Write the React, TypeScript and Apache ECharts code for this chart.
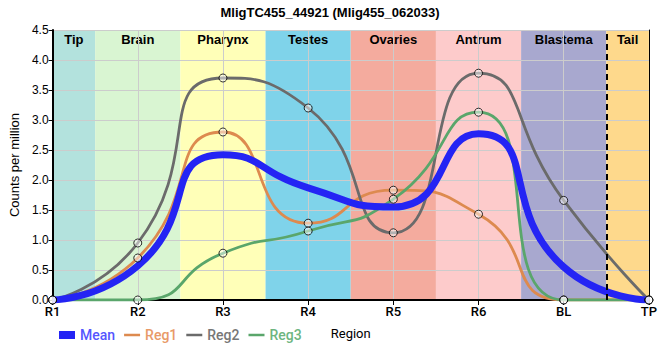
import React, { useEffect, useRef } from 'react';
import * as echarts from 'echarts';

const categories = ['R1', 'R2', 'R3', 'R4', 'R5', 'R6', 'BL', 'TP'];
const meanValues = [0, 0.57, 2.42, 1.87, 1.55, 2.77, 0.55, 0];
const reg1Values = [0, 0.7, 2.8, 1.28, 1.83, 1.43, 0, 0];
const reg2Values = [0, 0.95, 3.7, 3.2, 1.12, 3.78, 1.66, 0];
const reg3Values = [0, 0, 0.78, 1.15, 1.68, 3.13, 0, 0];

const regionNames = ['Tip', 'Brain', 'Pharynx', 'Testes', 'Ovaries', 'Antrum', 'Blastema', 'Tail'];
const regionStarts = [0, 0.5, 1.5, 2.5, 3.5, 4.5, 5.5, 6.5];
const regionEnds = [0.5, 1.5, 2.5, 3.5, 4.5, 5.5, 6.5, 7];
const regionColors = ['#b3e2dd', '#d9f5d2', '#ffffb8', '#7fd3ea', '#f4ab9e', '#fdcbcb', '#a8a8cf', '#fed98c'];
const tailBoundary = 6.5;

const seriesNames = ['Mean', 'Reg1', 'Reg2', 'Reg3'];
const seriesColors = ['#2424f4', '#dd8a4f', '#6b6b6b', '#5aa66b'];
const legendTextColors = ['#5555ff', '#e89a68', '#777777', '#6db580'];

export default function App() {
  const ref = useRef<HTMLDivElement>(null);
  useEffect(() => {
    if (!ref.current) return;
    const chart = echarts.init(ref.current, null, { renderer: 'svg' });
    const regValues = [reg1Values, reg2Values, reg3Values];
    const axisFont = 'Liberation Sans, Arial, sans-serif';
    const option: any = {
      animation: false,
      title: {
        text: 'MligTC455_44921 (Mlig455_062033)',
        left: 'center',
        top: 1,
        textStyle: { fontFamily: axisFont, fontSize: 13, fontWeight: 'bold', color: '#000' },
      },
      grid: { left: 50, right: 9, top: 30, bottom: 60 },
      legend: {
        left: 54,
        top: 323,
        itemWidth: 16,
        itemHeight: 8,
        itemGap: 9,
        textStyle: { fontFamily: 'Roboto, sans-serif', fontSize: 14, fontWeight: 500 },
        data: seriesNames.map((n, i) => ({
          name: n,
          icon: i === 0 ? 'path://M0,0L16,0L16,8L0,8Z' : 'path://M0,0L16,0L16,2.5L0,2.5Z',
          textStyle: { color: legendTextColors[i] },
        })),
      },
      xAxis: [
        {
          type: 'category',
          data: categories,
          boundaryGap: false,
          z: 1.5,
          axisLine: { show: true, lineStyle: { color: '#000', width: 2 } },
          axisTick: { show: true, length: 5, lineStyle: { color: '#000', width: 1 } },
          axisLabel: { fontFamily: 'Roboto, sans-serif', fontSize: 13, fontWeight: 500, color: '#000', margin: 5 },
          splitLine: { show: true, lineStyle: { color: '#cccccc', width: 1 } },
          name: 'Region',
          nameLocation: 'middle',
          nameGap: 27,
          nameTextStyle: { fontFamily: 'Roboto, sans-serif', fontSize: 13, color: '#000' },
        },
        {
          type: 'value',
          min: 0,
          max: 7,
          position: 'top',
          z: 1.5,
          axisLine: { show: true, lineStyle: { color: '#000', width: 1 } },
          axisTick: { show: false },
          axisLabel: { show: false },
          splitLine: { show: false },
        },
      ],
      yAxis: [
        {
          type: 'value',
          min: 0,
          max: 4.5,
          interval: 0.5,
          z: 1.5,
          axisLine: { show: true, lineStyle: { color: '#000', width: 2 } },
          axisTick: { show: true, length: 4, lineStyle: { color: '#000' } },
          axisLabel: {
            fontFamily: axisFont,
            fontSize: 12,
            color: '#000',
            margin: 4,
            formatter: (v: number) => v.toFixed(1),
          },
          splitLine: { show: true, lineStyle: { color: '#cccccc', width: 1 } },
          name: 'Counts per million',
          nameLocation: 'middle',
          nameGap: 31,
          nameRotate: 90,
          nameTextStyle: { fontFamily: axisFont, fontSize: 13, color: '#000' },
        },
        {
          type: 'value',
          min: 0,
          max: 4.5,
          interval: 0.5,
          position: 'right',
          z: 1.5,
          axisLine: { show: true, lineStyle: { color: '#000', width: 1 } },
          axisTick: { show: false },
          axisLabel: { show: false },
          splitLine: { show: false },
        },
      ],
      series: [
        {
          name: 'bands',
          type: 'line',
          xAxisIndex: 1,
          yAxisIndex: 0,
          data: [],
          silent: true,
          markArea: {
            silent: true,
            z: 1,
            label: {
              show: true,
              position: 'insideTop',
              distance: 3,
              fontFamily: axisFont,
              fontSize: 13,
              fontWeight: 'bold',
              color: '#000',
            },
            data: regionNames.map((n, i) => [
              { name: n, xAxis: regionStarts[i], itemStyle: { color: regionColors[i], opacity: 1 } },
              { xAxis: regionEnds[i] },
            ]),
          },
          markLine: {
            silent: true,
            symbol: 'none',
            label: { show: false },
            lineStyle: { color: '#000', type: [6, 4], width: 2 },
            data: [{ xAxis: tailBoundary }],
          },
        },
        ...[meanValues, reg1Values, reg2Values, reg3Values].map((vals, i) => ({
          name: seriesNames[i],
          type: 'line',
          data: vals,
          smooth: 0.6,
          symbol: 'none',
          z: i === 0 ? 3 : 2,
          itemStyle: { color: seriesColors[i] },
          lineStyle: { color: seriesColors[i], width: i === 0 ? 7 : 2.8 },
        })),
        ...regValues.map((vals, i) => ({
          name: 'pts' + i,
          type: 'scatter',
          data: vals,
          symbol: 'circle',
          symbolSize: 8,
          z: 5,
          silent: true,
          itemStyle: { color: 'rgba(255,255,255,0.6)', borderColor: '#000', borderWidth: 1 },
        })),
      ],
    };
    chart.setOption(option);
    return () => chart.dispose();
  }, []);
  return <div ref={ref} style={{ width: 660, height: 360, position: 'absolute', left: 0, top: 0 }} />;
}
